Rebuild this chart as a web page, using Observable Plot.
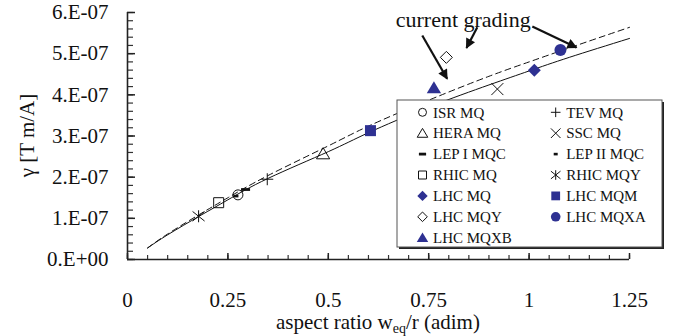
<!DOCTYPE html>
<html>
<head>
<meta charset="utf-8">
<script src="https://cdn.jsdelivr.net/npm/d3@7"></script>
<script src="https://cdn.jsdelivr.net/npm/@observablehq/plot@0.6"></script>
<style>
  body { margin: 0; background: #fff; }
  #chart { position: relative; width: 675px; height: 336px; }
</style>
</head>
<body>
<div id="chart"></div>
<script>
// Quadrupole magnets: aspect ratio w_eq/r versus gradient per unit current γ [T m/A]
const magnets     = ["ISR MQ", "TEV MQ", "HERA MQ", "SSC MQ", "LEP I MQC", "LEP II MQC", "RHIC MQ", "RHIC MQY",
                     "LHC MQ", "LHC MQM", "LHC MQY", "LHC MQXA", "LHC MQXB"];
const aspectRatio = [0.275, 0.348, 0.487, 0.921, 0.294, 0.270, 0.227, 0.177,
                     1.013, 0.605, 0.794, 1.078, 0.763];
const gamma       = [1.57e-7, 1.95e-7, 2.57e-7, 4.14e-7, 1.70e-7, 1.54e-7, 1.38e-7, 1.05e-7,
                     4.60e-7, 3.13e-7, 4.91e-7, 5.09e-7, 4.17e-7];

// Fitted curves (solid and dashed)
const solidX  = [0.05, 0.10, 0.18, 0.25, 0.35, 0.50, 0.60, 0.75, 0.90, 1.00, 1.10, 1.25];
const solidY  = [0.28e-7, 0.60e-7, 1.06e-7, 1.45e-7, 1.97e-7, 2.62e-7, 3.08e-7, 3.70e-7, 4.24e-7, 4.58e-7, 4.91e-7, 5.37e-7];
const dashedX = [0.05, 0.10, 0.18, 0.25, 0.35, 0.50, 0.60, 0.75, 0.90, 1.00, 1.10, 1.25];
const dashedY = [0.28e-7, 0.62e-7, 1.10e-7, 1.50e-7, 2.04e-7, 2.76e-7, 3.24e-7, 3.87e-7, 4.45e-7, 4.80e-7, 5.14e-7, 5.64e-7];

// Axis ticks and labels
const xTicks = [0, 0.25, 0.5, 0.75, 1, 1.25];
const xTickLabels = ["0", "0.25", "0.5", "0.75", "1", "1.25"];
const yTicks = [0, 1e-7, 2e-7, 3e-7, 4e-7, 5e-7, 6e-7];
const yTickLabels = ["0.E+00", "1.E-07", "2.E-07", "3.E-07", "4.E-07", "5.E-07", "6.E-07"];

// Annotation
const noteText = ["current grading"];
const noteX = [0.836];
const noteY = [5.83e-7];
const arrowX1 = [0.734, 0.871, 1.008];
const arrowY1 = [5.44e-7, 5.64e-7, 5.66e-7];
const arrowX2 = [0.796, 0.844, 1.118];
const arrowY2 = [4.39e-7, 5.14e-7, 5.15e-7];

const BLUE = "#2E3192";
const INK = "#111";
const FONT = "'Liberation Serif', 'Times New Roman', serif";

// Marker glyphs (s = half size in px)
const glyph = {
  circle:   s => ({draw(c) { c.moveTo(s, 0); c.arc(0, 0, s, 0, 2 * Math.PI); c.closePath(); }}),
  square:   s => ({draw(c) { c.rect(-s, -s, 2 * s, 2 * s); }}),
  diamond:  s => ({draw(c) { c.moveTo(0, -s); c.lineTo(s, 0); c.lineTo(0, s); c.lineTo(-s, 0); c.closePath(); }}),
  triangle: s => ({draw(c) { c.moveTo(0, -s); c.lineTo(s * 1.1, s * 0.85); c.lineTo(-s * 1.1, s * 0.85); c.closePath(); }}),
  plus:     s => ({draw(c) { c.moveTo(-s, 0); c.lineTo(s, 0); c.moveTo(0, -s); c.lineTo(0, s); }}),
  times:    s => ({draw(c) { c.moveTo(-s, -s); c.lineTo(s, s); c.moveTo(-s, s); c.lineTo(s, -s); }}),
  asterisk: s => ({draw(c) { c.moveTo(0, -s); c.lineTo(0, s); c.moveTo(-s, -s * 0.8); c.lineTo(s, s * 0.8); c.moveTo(-s, s * 0.8); c.lineTo(s, -s * 0.8); }}),
  bar:      (w, h) => ({draw(c) { c.rect(-w / 2, -h / 2, w, h); }})
};

// Style per magnet: glyph factory, fill, stroke
const look = {
  "ISR MQ":     {g: k => glyph.circle(5 * k),   fill: "none", stroke: INK},
  "TEV MQ":     {g: k => glyph.plus(6 * k),     fill: "none", stroke: INK},
  "HERA MQ":    {g: k => glyph.triangle(6 * k), fill: "none", stroke: INK},
  "SSC MQ":     {g: k => glyph.times(6 * k),    fill: "none", stroke: INK},
  "LEP I MQC":  {g: k => glyph.bar(9 * k, 2.8), fill: INK,    stroke: "none"},
  "LEP II MQC": {g: k => glyph.bar(5 * k, 2.6), fill: INK,    stroke: "none"},
  "RHIC MQ":    {g: k => glyph.square(5 * k),   fill: "none", stroke: INK},
  "RHIC MQY":   {g: k => glyph.asterisk(6 * k), fill: "none", stroke: INK},
  "LHC MQ":     {g: k => glyph.diamond(6.5 * k), fill: BLUE,  stroke: "none"},
  "LHC MQM":    {g: k => glyph.square(5.5 * k), fill: BLUE,   stroke: "none"},
  "LHC MQY":    {g: k => glyph.diamond(6 * k),  fill: "none", stroke: INK},
  "LHC MQXA":   {g: k => glyph.circle(6 * k),   fill: BLUE,   stroke: "none"},
  "LHC MQXB":   {g: k => glyph.triangle(6.5 * k), fill: BLUE, stroke: "none"}
};

const W = 675, H = 336, ML = 127, MR = 46, MT = 12, MB = 77;
const plotW = W - ML - MR, plotH = H - MT - MB;

const yMinor = d3.range(0, 31).map(i => i * 2e-8);
const xMinor = d3.range(0, 26).map(i => i * 0.05);

const chart = Plot.plot({
  width: W,
  height: H,
  marginLeft: ML,
  marginRight: MR,
  marginTop: MT,
  marginBottom: MB,
  x: {domain: [0, 1.25]},
  y: {domain: [0, 6e-7]},
  style: {fontFamily: FONT, fontSize: "21px", color: INK, background: "white", overflow: "visible"},
  marks: [
    // inward tick marks
    Plot.tickY(yMinor, {y: d => d, insetRight: plotW - 6, stroke: "#333", strokeWidth: 1.2}),
    Plot.tickY(yTicks, {y: d => d, insetRight: plotW - 8, stroke: "#222", strokeWidth: 1.5}),
    Plot.tickX(xMinor, {x: d => d, insetTop: plotH - 4, stroke: "#333", strokeWidth: 1.2}),
    Plot.tickX(xTicks, {x: d => d, insetTop: plotH - 6, stroke: "#222", strokeWidth: 1.5}),
    Plot.ruleX([0], {stroke: "#222", strokeWidth: 1.6}),
    Plot.ruleY([0], {stroke: "#222", strokeWidth: 1.6}),
    Plot.axisY(yTicks, {tickSize: 0, tickPadding: 19, label: null,
      tickFormat: d => yTickLabels[yTicks.indexOf(d)]}),
    Plot.axisX(xTicks, {tickSize: 0, tickPadding: 33, label: null,
      tickFormat: d => xTickLabels[xTicks.indexOf(d)]}),
    // fitted curves
    Plot.line(dashedX.map((x, i) => [x, dashedY[i]]), {x: "0", y: "1", curve: "natural",
      stroke: INK, strokeWidth: 1, strokeDasharray: "6,4"}),
    Plot.line(solidX.map((x, i) => [x, solidY[i]]), {x: "0", y: "1", curve: "natural",
      stroke: INK, strokeWidth: 1}),
    // magnets
    ...magnets.map((m, i) => Plot.dot([i], {
      x: j => aspectRatio[j], y: j => gamma[j],
      symbol: look[m].g(1), fill: look[m].fill, stroke: look[m].stroke, strokeWidth: 1
    })),
    // annotation
    Plot.text(noteText, {x: (d, i) => noteX[i], y: (d, i) => noteY[i], text: d => d,
      fontSize: 22, textAnchor: "middle", fill: INK}),
    Plot.link(arrowX1, {x1: (d, i) => arrowX1[i], y1: (d, i) => arrowY1[i],
      x2: (d, i) => arrowX2[i], y2: (d, i) => arrowY2[i],
      stroke: INK, strokeWidth: 2.2})
  ]
});

document.getElementById("chart").appendChild(chart);

const svg = d3.select(chart);

// filled arrowheads on the annotation arrows
const defs = svg.append("defs");
defs.append("marker")
  .attr("id", "head")
  .attr("viewBox", "0 0 10 10")
  .attr("refX", 9).attr("refY", 5)
  .attr("markerUnits", "userSpaceOnUse")
  .attr("markerWidth", 12).attr("markerHeight", 10)
  .attr("orient", "auto")
  .append("path").attr("d", "M0,0L10,5L0,10z").attr("fill", INK);
svg.selectAll('g[aria-label="link"] path').attr("marker-end", "url(#head)");

// axis titles
svg.append("text")
  .attr("transform", `translate(27,${MT + plotH / 2}) rotate(-90)`)
  .attr("text-anchor", "middle")
  .attr("dy", "0.35em")
  .attr("font-family", FONT).attr("font-size", 21).attr("fill", INK)
  .text("γ [T m/A]");

const xt = svg.append("text")
  .attr("x", ML + plotW / 2).attr("y", 329)
  .attr("text-anchor", "middle")
  .attr("font-family", FONT).attr("font-size", 21).attr("fill", INK);
xt.append("tspan").text("aspect ratio w");
xt.append("tspan").attr("font-size", 14).attr("dy", 4).text("eq");
xt.append("tspan").attr("dy", -4).text("/r (adim)");

// legend box
const lg = svg.append("g").attr("transform", "translate(397,100)");
lg.append("rect").attr("x", 2).attr("y", 2).attr("width", 265).attr("height", 147).attr("fill", "#222");
lg.append("rect").attr("x", 0).attr("y", 0).attr("width", 265).attr("height", 147)
  .attr("fill", "white").attr("stroke", "#555").attr("stroke-width", 1);
magnets.forEach((m, i) => {
  const row = Math.floor(i / 2), col = i % 2;
  const cx = col === 0 ? 25.5 : 158.7;
  const cy = 12.3 + row * 20.9;
  const p = d3.path();
  look[m].g(0.8).draw(p, 0);
  lg.append("path")
    .attr("transform", `translate(${cx},${cy})`)
    .attr("d", p.toString())
    .attr("fill", look[m].fill).attr("stroke", look[m].stroke).attr("stroke-width", 1);
  lg.append("text")
    .attr("x", cx + 10.5).attr("y", cy + 5.2)
    .attr("text-anchor", "start")
    .attr("font-family", FONT).attr("font-size", 15).attr("fill", INK)
    .text(m);
});
</script>
</body>
</html>
